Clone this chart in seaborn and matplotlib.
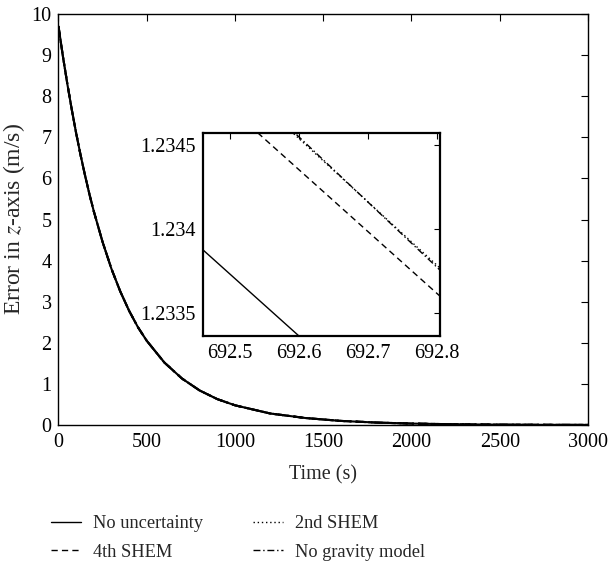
import matplotlib
matplotlib.use("Agg")
import matplotlib.pyplot as plt
import seaborn as sns

# ---- data ----
time_s = [0, 25, 50, 75, 100, 125, 150, 175, 200, 250, 300, 350, 400, 450, 500,
          600, 700, 800, 900, 1000, 1200, 1400, 1600, 1800, 2000, 2250, 2500,
          2750, 3000]
err_no_uncertainty = [9.70, 8.97, 8.30, 7.68, 7.10, 6.57, 6.08, 5.62, 5.20, 4.45,
                      3.80, 3.25, 2.78, 2.38, 2.05, 1.52, 1.13, 0.84, 0.63, 0.48,
                      0.28, 0.17, 0.10, 0.06, 0.035, 0.018, 0.009, 0.005, 0.003]
err_4th_shem = err_no_uncertainty
err_2nd_shem = err_no_uncertainty
err_no_gravity = err_no_uncertainty

# zoomed-in window
zoom_t = [692.45, 692.82]
zoom_no_uncertainty = [1.233915, 1.232555]
zoom_4th_shem = [1.234904, 1.233545]
zoom_2nd_shem = [1.235103, 1.233711]
zoom_no_gravity = [1.235129, 1.233697]

labels = ["No uncertainty", "4th SHEM", "2nd SHEM", "No gravity model"]
main_series = [err_no_uncertainty, err_4th_shem, err_2nd_shem, err_no_gravity]
zoom_series = [zoom_no_uncertainty, zoom_4th_shem, zoom_2nd_shem, zoom_no_gravity]
styles = ["-", (0, (4.5, 3)), (0, (1, 2)), (0, (5, 2, 1, 2))]

x_ticks = [0, 500, 1000, 1500, 2000, 2500, 3000]
y_ticks = list(range(0, 11))
zoom_x_ticks = [692.5, 692.6, 692.7, 692.8]
zoom_y_ticks = [1.2335, 1.234, 1.2345]
zoom_y_ticklabels = ["1.2335", "1.234", "1.2345"]

# ---- style ----
sns.set_theme(style="white")
plt.rcParams["font.family"] = ["Liberation Serif", "DejaVu Serif"]
plt.rcParams["mathtext.fontset"] = "stix"
plt.rcParams["font.size"] = 14

FS = 14.5
fig = plt.figure(figsize=(6.10, 5.67), dpi=100)
ax = fig.add_axes([0.0959, 0.2504, 0.868, 0.7249])

for vals, ls, lab in zip(main_series, styles, labels):
    sns.lineplot(x=time_s, y=vals, ax=ax, color="black", linestyle=ls, lw=1.5,
                 label=lab, legend=False)

ax.set_xlim(0, 3000)
ax.set_ylim(0, 10)
ax.set_xticks(x_ticks)
ax.set_yticks(y_ticks)
ax.tick_params(direction="in", top=True, right=True, length=5, width=0.8,
               labelsize=FS, colors="black", pad=5)
ax.tick_params(axis="x", pad=6)
for s in ax.spines.values():
    s.set_color("black")
    s.set_linewidth(1.0)
ax.set_xlabel("Time (s)", fontsize=FS, labelpad=9)
ax.set_ylabel("Error in $z$-axis (m/s)", fontsize=17, labelpad=3)

# ---- inset ----
axin = fig.add_axes([0.3328, 0.4074, 0.3885, 0.358])
for vals, ls in zip(zoom_series, styles):
    sns.lineplot(x=zoom_t, y=vals, ax=axin, color="black", linestyle=ls, lw=1.0,
                 legend=False)
axin.set_xlim(692.4608, 692.805)
axin.set_ylim(1.233363, 1.234571)
axin.set_xticks(zoom_x_ticks)
axin.set_xticklabels([f"{v:.1f}" for v in zoom_x_ticks])
axin.set_yticks(zoom_y_ticks)
axin.set_yticklabels(zoom_y_ticklabels)
axin.tick_params(direction="in", top=True, right=True, length=4, width=0.8,
                 labelsize=FS, colors="black", pad=5)
axin.tick_params(axis="x", pad=6)
for s in axin.spines.values():
    s.set_color("black")
    s.set_linewidth(1.6)
axin.set_xlabel("")
axin.set_ylabel("")

# ---- legend ----
handles, labs = ax.get_legend_handles_labels()
leg = fig.legend(handles, labs,
                 loc="lower left", bbox_to_anchor=(0.0836, 0.011), ncol=2,
                 frameon=False, fontsize=13.2, handlelength=1.65,
                 handletextpad=0.65, columnspacing=2.7, labelspacing=0.62,
                 borderpad=0, borderaxespad=0)
for h in leg.get_lines():
    h.set_linewidth(1.0)

fig.savefig("out.png", dpi=100)
